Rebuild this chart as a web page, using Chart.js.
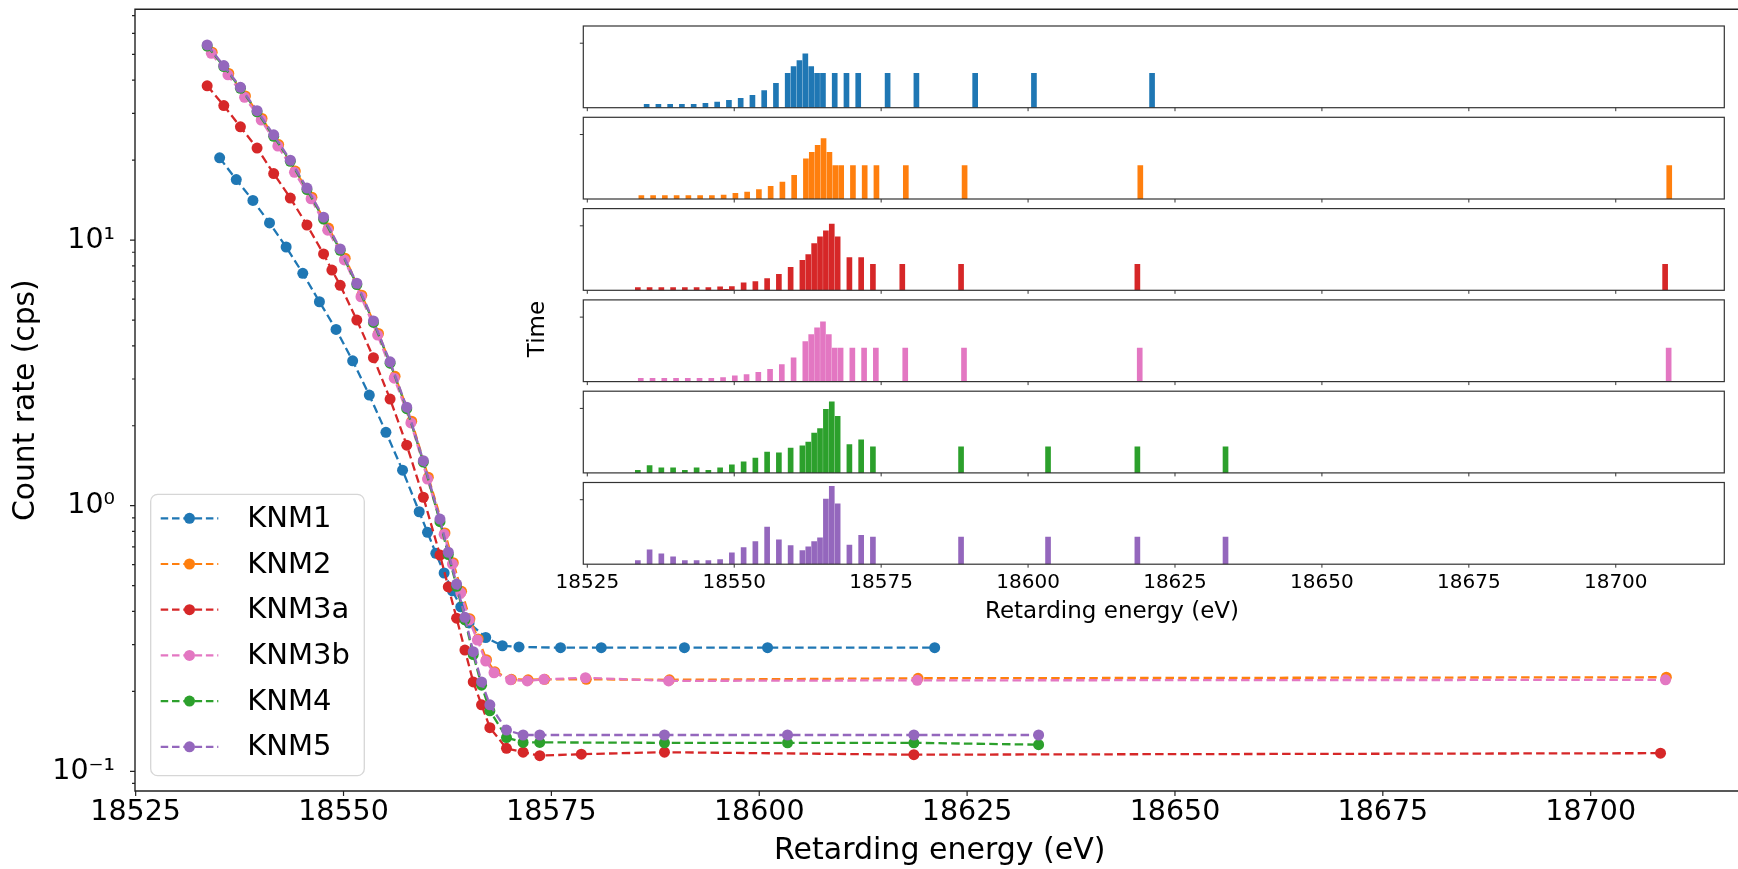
<!DOCTYPE html>
<html>
<head>
<meta charset="utf-8">
<script src="https://cdn.jsdelivr.net/npm/chart.js@4.4.1/dist/chart.umd.min.js"></script>
<style>
html, body { margin: 0; padding: 0; background: #fff; overflow: hidden; width: 1738px; height: 869px; }
#wrap { position: relative; width: 1738px; height: 869px; overflow: hidden; }
#wrap canvas { position: absolute; }
</style>
</head>
<body>
<div id="wrap"><canvas id="main" width="1750" height="869" style="left:0;top:0"></canvas></div>
<script>
// retarding energies (eV), count rates (cps) and measurement time per scan step
const knm1Energy = [18535.1,18537.1,18539.1,18541.1,18543.1,18545.1,18547.1,18549.1,18551.1,18553.1,18555.1,18557.1,18559.1,18560.1,18561.1,18562.1,18563.1,18564.1,18565.1,18567.1,18569.1,18571.1,18576.1,18581.0,18591.0,18601.0,18621.1];
const knm1Rate = [20.4,16.9,14.1,11.6,9.42,7.50,5.86,4.61,3.51,2.61,1.89,1.36,0.949,0.794,0.662,0.558,0.478,0.416,0.362,0.319,0.297,0.294,0.292,0.292,0.292,0.292,0.292];
const knm1Time = [0.52,0.52,0.52,0.52,0.52,0.67,0.88,1.14,1.45,1.92,2.64,3.78,5.34,6.37,7.31,8.34,6.37,5.34,5.34,5.34,5.34,5.34,5.34,5.34,5.34,5.34,5.34];

const knm2Energy = [18534.2,18536.2,18538.2,18540.2,18542.2,18544.2,18546.2,18548.2,18550.2,18552.2,18554.2,18556.2,18558.2,18560.2,18562.2,18563.2,18564.2,18565.2,18566.2,18567.2,18568.2,18570.2,18572.2,18574.2,18579.2,18589.2,18619.1,18709.1];
const knm2Rate = [51.0,42.4,34.9,28.7,22.9,18.2,14.5,11.1,8.55,6.20,4.45,3.07,2.08,1.28,0.79,0.61,0.476,0.375,0.315,0.263,0.237,0.222,0.221,0.222,0.222,0.221,0.224,0.226];
const knm2Time = [0.52,0.52,0.52,0.52,0.52,0.52,0.52,0.62,0.88,1.09,1.45,1.97,2.64,3.68,6.22,7.25,8.34,9.38,7.25,5.18,5.18,5.18,5.18,5.18,5.18,5.18,5.18,5.18];

const knm3aEnergy = [18533.6,18535.6,18537.6,18539.6,18541.6,18543.6,18545.6,18547.6,18548.6,18549.6,18551.6,18553.6,18555.6,18557.6,18559.6,18561.6,18562.6,18563.6,18564.6,18565.6,18566.6,18567.6,18569.6,18571.6,18573.6,18578.6,18588.6,18618.6,18708.4];
const knm3aRate = [38.1,32.1,26.7,22.2,17.8,14.4,11.4,8.87,7.71,6.76,5.00,3.61,2.52,1.69,1.076,0.652,0.495,0.377,0.286,0.217,0.178,0.146,0.122,0.118,0.1145,0.116,0.118,0.1155,0.117];
const knm3aTime = [0.41,0.41,0.41,0.41,0.41,0.41,0.41,0.52,0.16,0.57,1.14,1.35,1.81,2.49,3.58,4.66,5.54,7.25,8.29,9.22,10.26,8.29,5.08,5.08,4.04,4.04,4.04,4.04,4.04];

const knm3bEnergy = [18534.1,18536.1,18538.1,18540.1,18542.1,18544.1,18546.1,18548.1,18550.1,18552.1,18554.1,18556.1,18558.1,18560.1,18562.1,18563.1,18564.1,18565.1,18566.1,18567.1,18568.1,18570.1,18572.1,18574.1,18579.1,18589.1,18619.0,18709.0];
const knm3bRate = [50.5,41.9,34.5,28.3,22.6,18.0,14.3,10.9,8.42,6.12,4.39,3.02,2.05,1.26,0.78,0.603,0.470,0.371,0.312,0.260,0.235,0.221,0.219,0.222,0.225,0.219,0.220,0.221];
const knm3bTime = [0.52,0.52,0.52,0.52,0.52,0.52,0.52,0.62,0.88,1.09,1.45,1.92,2.64,3.68,6.22,7.31,8.34,9.27,7.31,5.18,5.18,5.18,5.18,5.18,5.18,5.18,5.18,5.18];

const knm4Energy = [18533.6,18535.6,18537.6,18539.6,18541.6,18543.6,18545.6,18547.6,18549.6,18551.6,18553.6,18555.6,18557.6,18559.6,18561.6,18562.6,18563.6,18564.6,18565.6,18566.6,18567.6,18569.6,18571.6,18573.6,18588.6,18603.4,18618.6,18633.6];
const knm4Rate = [53.8,45.0,37.3,30.4,24.6,19.8,15.5,12.0,9.15,6.80,4.90,3.44,2.32,1.46,0.871,0.655,0.497,0.372,0.275,0.211,0.169,0.134,0.1285,0.1285,0.128,0.128,0.128,0.126];
const knm4Time = [0.41,1.14,0.78,0.78,0.41,0.78,0.41,0.78,1.24,1.71,2.28,3.21,3.11,3.83,4.20,4.77,6.17,6.89,9.84,11.04,8.76,4.40,5.13,4.04,4.04,4.04,4.04,4.04];

const knm5Energy = [18533.6,18535.6,18537.6,18539.6,18541.6,18543.6,18545.6,18547.6,18549.6,18551.6,18553.6,18555.6,18557.6,18559.6,18561.6,18562.6,18563.6,18564.6,18565.6,18566.6,18567.6,18569.6,18571.6,18573.6,18588.6,18603.4,18618.6,18633.6];
const knm5Rate = [54.3,45.4,37.6,30.7,24.9,20.0,15.7,12.2,9.26,6.88,4.96,3.48,2.35,1.477,0.891,0.668,0.507,0.380,0.282,0.217,0.178,0.143,0.137,0.137,0.137,0.137,0.137,0.137];
const knm5Time = [0.57,2.23,1.61,1.14,0.57,0.57,0.57,0.73,1.76,2.59,3.52,5.75,3.78,2.90,2.12,2.69,3.52,4.09,10.10,12.07,9.38,2.95,4.46,4.20,4.20,4.20,4.20,4.20];

const runNames = ['KNM1', 'KNM2', 'KNM3a', 'KNM3b', 'KNM4', 'KNM5'];
const runColors = ['#1f77b4', '#ff7f0e', '#d62728', '#e377c2', '#2ca02c', '#9467bd'];
const runEnergy = [knm1Energy, knm2Energy, knm3aEnergy, knm3bEnergy, knm4Energy, knm5Energy];
const runRate = [knm1Rate, knm2Rate, knm3aRate, knm3bRate, knm4Rate, knm5Rate];
const runTime = [knm1Time, knm2Time, knm3aTime, knm3bTime, knm4Time, knm5Time];

const xTicks = [18525, 18550, 18575, 18600, 18625, 18650, 18675, 18700];
const yTicks = [0.09,0.1,0.2,0.3,0.4,0.5,0.6,0.7,0.8,0.9,1,2,3,4,5,6,7,8,9,10,20,30,40,50,60,70];
const yTickLabels = ['','10\u207B\u00B9','','','','','','','','','10\u2070','','','','','','','','','10\u00B9','','','','','',''];
const timeTick = [10];

Chart.defaults.font.family = "'DejaVu Sans', sans-serif";
Chart.defaults.color = '#000';

const FAM = "'DejaVu Sans', sans-serif";

// spines + matplotlib-like tick marks
const mainFrame = {
  id: 'mainFrame',
  afterDraw(chart) {
    const {ctx, chartArea: a, scales: {x, y}} = chart;
    ctx.save();
    ctx.strokeStyle = '#222';
    ctx.lineWidth = 1.4;
    ctx.beginPath();
    ctx.moveTo(a.right, a.top); ctx.lineTo(a.left, a.top);
    ctx.lineTo(a.left, a.bottom); ctx.lineTo(a.right, a.bottom);
    ctx.stroke();
    ctx.lineWidth = 1.2;
    ctx.beginPath();
    xTicks.forEach(v => {
      const px = x.getPixelForValue(v);
      ctx.moveTo(px, a.bottom); ctx.lineTo(px, a.bottom + 5);
    });
    yTicks.forEach((v, i) => {
      const py = y.getPixelForValue(v);
      const len = yTickLabels[i] ? 5 : 3;
      ctx.moveTo(a.left - len, py); ctx.lineTo(a.left, py);
    });
    ctx.stroke();
    ctx.restore();
  }
};

// legend box in the lower left, drawn like matplotlib's
const mainLegend = {
  id: 'mainLegend',
  afterDraw(chart) {
    const ctx = chart.ctx;
    const L = 150.7, T = 494.3, R = 364.3, B = 775.7, r = 7;
    ctx.save();
    ctx.beginPath();
    ctx.moveTo(L + r, T); ctx.lineTo(R - r, T); ctx.arcTo(R, T, R, T + r, r);
    ctx.lineTo(R, B - r); ctx.arcTo(R, B, R - r, B, r);
    ctx.lineTo(L + r, B); ctx.arcTo(L, B, L, B - r, r);
    ctx.lineTo(L, T + r); ctx.arcTo(L, T, L + r, T, r);
    ctx.closePath();
    ctx.fillStyle = 'rgba(255,255,255,0.8)';
    ctx.fill();
    ctx.strokeStyle = 'rgba(204,204,204,0.8)';
    ctx.lineWidth = 1.3;
    ctx.stroke();
    chart.data.datasets.forEach((ds, i) => {
      const yy = 518.3 + 45.7 * i;
      ctx.strokeStyle = ds.borderColor;
      ctx.lineWidth = 2.2;
      ctx.setLineDash([7.5, 3.8]);
      ctx.beginPath(); ctx.moveTo(160.7, yy); ctx.lineTo(218.3, yy); ctx.stroke();
      ctx.setLineDash([]);
      ctx.fillStyle = ds.borderColor;
      ctx.beginPath(); ctx.arc(189.5, yy, 5.5, 0, Math.PI * 2); ctx.fill();
      ctx.fillStyle = '#000';
      ctx.font = '29px ' + FAM;
      ctx.textAlign = 'left';
      ctx.textBaseline = 'middle';
      ctx.fillText(ds.label, 247.3, yy + 1);
    });
    // labels that belong to the inset
    ctx.fillStyle = '#000';
    ctx.font = '23px ' + FAM;
    ctx.textAlign = 'center';
    ctx.textBaseline = 'alphabetic';
    ctx.fillText('Retarding energy (eV)', 1112, 617.5);
    ctx.translate(544, 329);
    ctx.rotate(-Math.PI / 2);
    ctx.fillText('Time', 0, 0);
    ctx.restore();
  }
};

new Chart(document.getElementById('main'), {
  type: 'line',
  data: {
    datasets: runNames.map((name, i) => ({
      label: name,
      data: runEnergy[i].map((e, j) => ({x: e, y: runRate[i][j]})),
      borderColor: runColors[i],
      backgroundColor: runColors[i],
      pointBackgroundColor: runColors[i],
      borderWidth: 2.3,
      borderDash: [8.5, 4.2],
      pointRadius: 5.5,
      pointHoverRadius: 5.5,
      pointBorderWidth: 0,
      tension: 0,
      fill: false,
      order: runNames.length - 1 - i
    }))
  },
  options: {
    responsive: false,
    animation: false,
    events: [],
    layout: {padding: {top: 9.3, right: 2, left: 0, bottom: 0}},
    plugins: {legend: {display: false}, tooltip: {enabled: false}},
    scales: {
      x: {
        type: 'linear',
        min: 18524.92,
        max: 18718.5,
        afterBuildTicks: s => { s.ticks = xTicks.map(v => ({value: v})); },
        afterFit: s => { s.height = 78; },
        grid: {display: false},
        border: {display: false},
        ticks: {color: '#000', font: {size: 28.5}, padding: -4, maxRotation: 0, autoSkip: false, callback: v => String(v)},
        title: {display: true, text: 'Retarding energy (eV)', color: '#000', font: {size: 30}, padding: {top: 0, bottom: 0}}
      },
      y: {
        type: 'logarithmic',
        min: 0.0843,
        max: 73.96,
        afterBuildTicks: s => { s.ticks = yTicks.map(v => ({value: v})); },
        afterFit: s => { s.width = 135; s.paddingTop = 0; s.paddingBottom = 0; },
        grid: {display: false},
        border: {display: false},
        ticks: {color: '#000', font: {size: 28.5}, padding: 12, autoSkip: false, callback: (v, i) => yTickLabels[i]},
        title: {display: true, text: 'Count rate (cps)', color: '#000', font: {size: 29.75}, padding: {top: 8.5, bottom: 0}}
      }
    }
  },
  plugins: [mainFrame, mainLegend]
});

// inset: one small bar panel per campaign
const insetFrame = {
  id: 'insetFrame',
  beforeDraw(chart) {
    const {ctx, chartArea: a} = chart;
    ctx.save();
    ctx.fillStyle = '#fff';
    ctx.fillRect(a.left, a.top, a.right - a.left, a.bottom - a.top);
    ctx.restore();
  },
  afterDraw(chart) {
    const {ctx, chartArea: a, scales: {x, y}} = chart;
    ctx.save();
    ctx.strokeStyle = '#333';
    ctx.lineWidth = 1.2;
    ctx.strokeRect(a.left, a.top, a.right - a.left, a.bottom - a.top);
    ctx.lineWidth = 1;
    ctx.beginPath();
    xTicks.forEach(v => {
      const px = x.getPixelForValue(v);
      ctx.moveTo(px, a.bottom); ctx.lineTo(px, a.bottom + 3.5);
    });
    timeTick.forEach(v => {
      const py = y.getPixelForValue(v);
      ctx.moveTo(a.left - 3.5, py); ctx.lineTo(a.left, py);
    });
    ctx.stroke();
    ctx.restore();
  }
};

const wrap = document.getElementById('wrap');
const insetTop = 26, insetStep = 91.3, insetPanelH = 81.7;
const canvasLeft = 540, canvasW = 1198;
runNames.forEach((name, k) => {
  const top = insetTop + k * insetStep;
  const last = k === runNames.length - 1;
  const cTop = Math.floor(top) - 6;
  const cH = last ? 130 : 100;
  const padTop = top - cTop;
  const cv = document.createElement('canvas');
  cv.width = canvasW;
  cv.height = cH;
  cv.style.left = canvasLeft + 'px';
  cv.style.top = cTop + 'px';
  wrap.appendChild(cv);
  new Chart(cv, {
    type: 'bar',
    data: {
      datasets: [{
        label: name,
        data: runEnergy[k].map((e, j) => ({x: e, y: runTime[k][j]})),
        backgroundColor: runColors[k],
        borderWidth: 0,
        barThickness: 5
      }]
    },
    options: {
      responsive: false,
      animation: false,
      events: [],
      layout: {padding: {top: padTop, right: canvasW - (1724.3 - canvasLeft), left: 0, bottom: 0}},
      plugins: {legend: {display: false}, tooltip: {enabled: false}},
      scales: {
        x: {
          type: 'linear',
          offset: false,
          min: 18524.32,
          max: 18718.47,
          afterBuildTicks: s => { s.ticks = xTicks.map(v => ({value: v})); },
          afterFit: s => { s.height = cH - padTop - insetPanelH; },
          grid: {display: false},
          border: {display: false},
          ticks: {display: last, color: '#000', font: {size: 20}, padding: -1, maxRotation: 0, autoSkip: false, callback: v => String(v)}
        },
        y: {
          min: 0,
          max: 12.67,
          afterBuildTicks: s => { s.ticks = timeTick.map(v => ({value: v})); },
          afterFit: s => { s.width = 583.3 - canvasLeft; s.paddingTop = 0; s.paddingBottom = 0; },
          grid: {display: false},
          border: {display: false},
          ticks: {display: false}
        }
      }
    },
    plugins: [insetFrame]
  });
});
</script>
</body>
</html>
